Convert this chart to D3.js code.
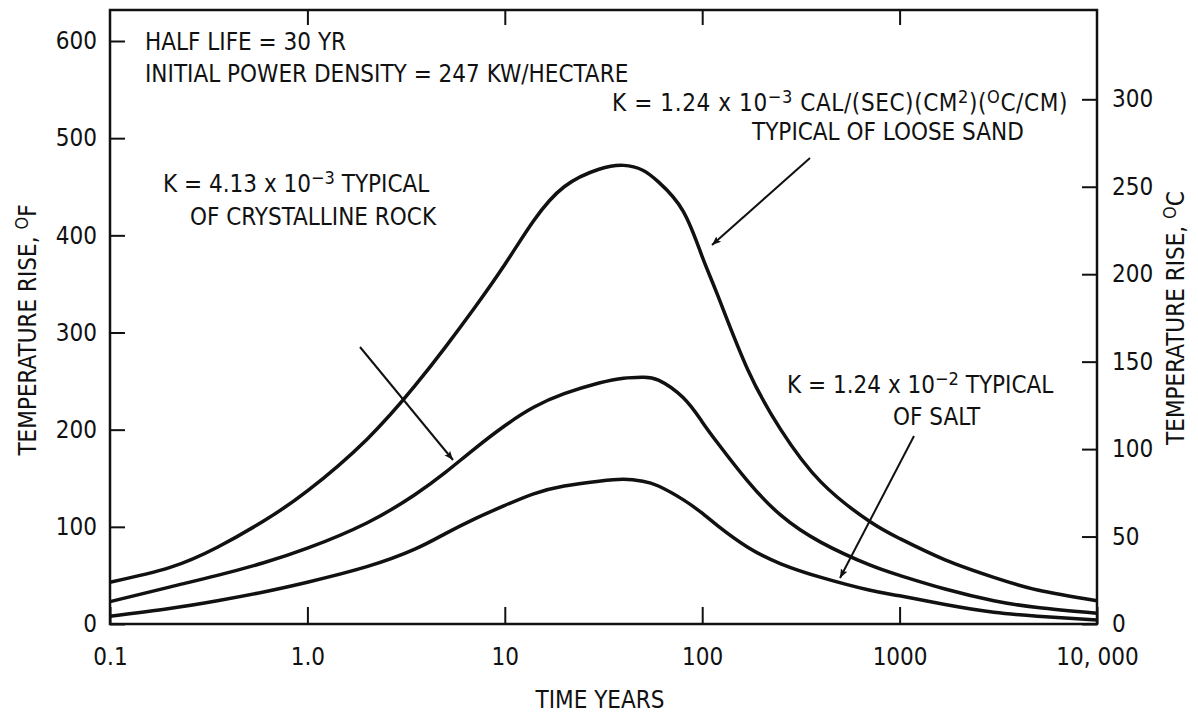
<!DOCTYPE html>
<html>
<head>
<meta charset="utf-8">
<script src="https://cdn.jsdelivr.net/npm/d3@7"></script>
<style>
  body { margin: 0; background: #fff; }
  svg text { font-family: 'Liberation Sans Narrow', 'DejaVu Sans Condensed', sans-serif; fill: #111; }
</style>
</head>
<body>
<svg id="chart" width="1198" height="717"></svg>
<script>
// time in years (log axis) and temperature rise in deg F
const years  = [0.1, 0.2, 0.35, 0.6, 1, 2, 3.5, 5, 7, 10, 14, 20, 30, 40, 50, 60, 80, 100, 120, 170, 250, 400, 700, 1000, 1700, 3000, 5000, 10000];
const sandF  = [43, 58, 79, 106, 137, 190, 245, 285, 325, 370, 415, 450, 468, 472, 467, 455, 425, 378, 338, 262, 200, 146, 106, 88, 66, 48, 35, 24];
const rockF  = [23, 38, 50, 63, 78, 104, 133, 156, 180, 204, 223, 237, 248, 253, 254, 251, 233, 208, 186, 147, 112, 84, 61, 50, 36, 24, 17, 11];
const saltF  = [8, 16, 24, 33, 43, 59, 77, 93, 108, 122, 134, 142, 147, 149, 147, 142, 128, 114, 101, 79, 62, 48, 35, 29, 20, 12, 8, 4];

const xTicks = [0.1, 1, 10, 100, 1000, 10000];
const xTickLabels = ['0.1', '1.0', '10', '100', '1000', '10, 000'];
const yTicksF = [0, 100, 200, 300, 400, 500, 600];
const yTicksC = [0, 50, 100, 150, 200, 250, 300];

const svg = d3.select('#chart');

const plotL = 110, plotR = 1097, plotT = 10, plotB = 624;

let x = d3.scaleLog().domain([0.1, 10000]).range([plotL, plotR]);
let yF = d3.scaleLinear().domain([0, 600]).range([plotB, 41]);
// same scale, shown in deg C (a rise of 9 F = 5 C)
let yC = d3.scaleLinear().domain([0, 300]).range([plotB, yF(540)]);

const fontSize = 24;

// frame
svg.append('rect')
  .attr('x', plotL).attr('y', plotT)
  .attr('width', plotR - plotL).attr('height', plotB - plotT)
  .attr('fill', 'none').attr('stroke', '#111').attr('stroke-width', 2.5);

function styleAxis(g) {
  g.select('.domain').remove();
  g.selectAll('.tick line').attr('stroke', '#111').attr('stroke-width', 2);
  g.selectAll('.tick text').attr('font-size', fontSize).attr('font-family', null).attr('fill', '#111');
}

svg.append('g')
  .attr('transform', `translate(${plotL},0)`)
  .call(d3.axisLeft(yF).tickValues(yTicksF).tickSize(-15).tickPadding(13))
  .call(styleAxis);

svg.append('g')
  .attr('transform', `translate(${plotR},0)`)
  .call(d3.axisRight(yC).tickValues(yTicksC).tickSize(-15).tickPadding(15))
  .call(styleAxis);

svg.append('g')
  .attr('transform', `translate(0,${plotB})`)
  .call(d3.axisBottom(x).tickValues(xTicks).tickSize(-17).tickPadding(24)
    .tickFormat((d, i) => xTickLabels[i]))
  .call(styleAxis);

svg.append('g')
  .attr('transform', `translate(0,${plotT})`)
  .call(d3.axisTop(x).tickValues(xTicks.slice(1, -1)).tickSize(-15).tickFormat(''))
  .call(styleAxis);

// curves
let line = d3.line()
  .x((d, i) => x(years[i]))
  .y(d => yF(d))
  .curve(d3.curveNatural);

[sandF, rockF, saltF].forEach(series => {
  svg.append('path')
    .datum(series)
    .attr('d', line)
    .attr('fill', 'none')
    .attr('stroke', '#111')
    .attr('stroke-width', 3.5)
    .attr('stroke-linejoin', 'round');
});

// arrow head
svg.append('defs').append('marker')
  .attr('id', 'arrow')
  .attr('viewBox', '0 0 10 10')
  .attr('refX', 10).attr('refY', 5)
  .attr('markerWidth', 9).attr('markerHeight', 9)
  .attr('markerUnits', 'userSpaceOnUse')
  .attr('orient', 'auto')
  .append('path')
  .attr('d', 'M0,1 L10,5 L0,9 L2,5 Z')
  .attr('fill', '#111');

function arrow(x1, y1, x2, y2) {
  svg.append('line')
    .attr('x1', x1).attr('y1', y1).attr('x2', x2).attr('y2', y2)
    .attr('stroke', '#111').attr('stroke-width', 2)
    .attr('marker-end', 'url(#arrow)');
}

// text helper: parts = [[text, 'sup'|undefined], ...]
function label(px, py, parts, anchor) {
  let t = svg.append('text')
    .attr('x', px).attr('y', py)
    .attr('font-size', fontSize)
    .attr('text-anchor', anchor || 'start');
  parts.forEach(p => {
    if (p[1] == 'sup') {
      t.append('tspan').attr('font-size', 18).attr('baseline-shift', '45%').text(p[0]);
    } else {
      t.append('tspan').text(p[0]);
    }
  });
  return t;
}

label(145, 50, [['HALF LIFE = 30 YR']]);
label(145, 82, [['INITIAL POWER DENSITY = 247 KW/HECTARE']]);

label(612, 111, [['K = 1.24 x 10'], ['\u22123', 'sup'], [' CAL/(SEC)(CM'], ['2', 'sup'], [')('], ['O', 'sup'], ['C/CM)']])
  .attr('letter-spacing', 0.6);
label(752, 140, [['TYPICAL OF LOOSE SAND']]);
arrow(810, 158, 712, 245);

label(163, 192, [['K = 4.13 x 10'], ['\u22123', 'sup'], [' TYPICAL']]);
label(190, 225, [['OF CRYSTALLINE ROCK']]);
arrow(360, 347, 453, 460);

label(787, 393, [['K = 1.24 x 10'], ['\u22122', 'sup'], [' TYPICAL']]);
label(893, 425, [['OF SALT']]);
arrow(914, 436, 840, 578);

// axis titles
label(600, 708, [['TIME YEARS']], 'middle');

label(0, 0, [['TEMPERATURE RISE, '], ['O', 'sup'], ['F']], 'middle')
  .attr('transform', 'translate(36,330) rotate(-90)');

label(0, 0, [['TEMPERATURE RISE, '], ['O', 'sup'], ['C']], 'middle')
  .attr('transform', 'translate(1184,318) rotate(-90)');
</script>
</body>
</html>
